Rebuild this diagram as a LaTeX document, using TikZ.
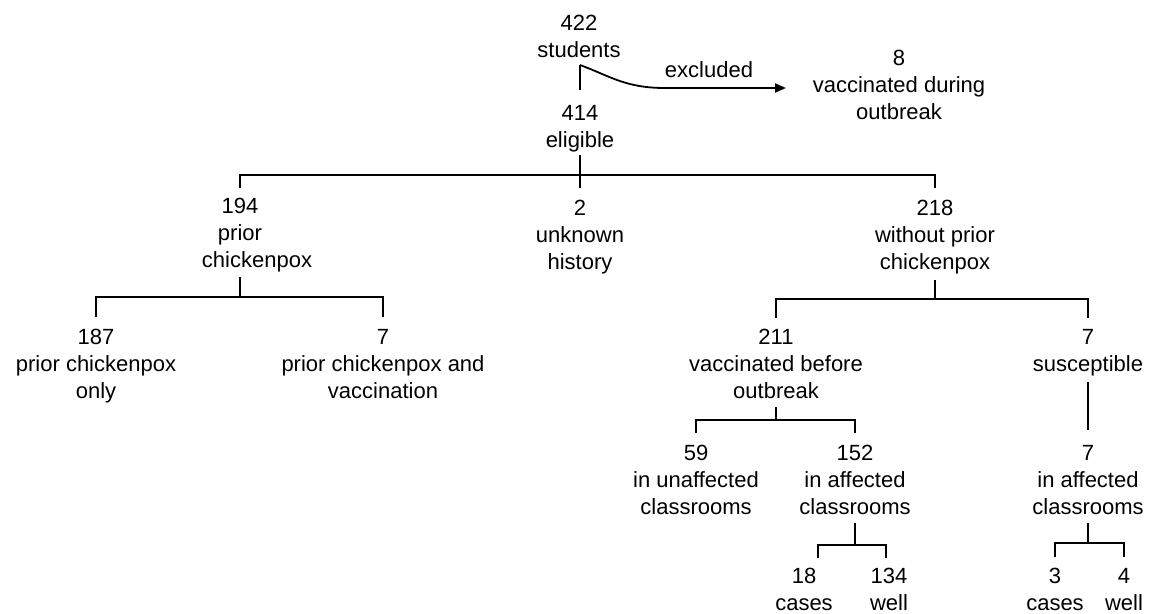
\documentclass[tikz,border=0pt]{standalone}
\usepackage{fontspec}
\setmainfont{Liberation Sans}
\usetikzlibrary{arrows.meta,calc}
\begin{document}
\begin{tikzpicture}[x=1pt,y=-1pt,
  lbl/.style={inner sep=0pt, outer sep=0pt, align=center, anchor=north,
              font=\fontsize{22}{27}\selectfont},
  conn/.style={line width=1.8pt, line cap=butt, line join=miter},
  arr/.style={conn, -{Triangle[length=11pt,width=9pt]}}
]
\useasboundingbox (0,0) rectangle (1151,613);

% nodes
\node[lbl] (n422) at (579,15)  {422\\students};
\node[lbl] (n414) at (580,105) {414\\eligible};
\node[lbl] (n8)   at (899,50)  {8\\vaccinated during\\outbreak};
\node[inner sep=0pt, anchor=base, font=\fontsize{22}{27}\selectfont] (lblx) at (709,77) {excluded};

\node[lbl] (n194) at (240,198) {194\\prior\\\hspace*{34pt}chickenpox};
\node[lbl] (n2)   at (580,200) {2\\unknown\\history};
\node[lbl] (n218) at (935,200) {218\\without prior\\chickenpox};

\node[lbl] (n187) at (96,329)   {187\\prior chickenpox\\only};
\node[lbl] (n7a)  at (383,329)  {7\\prior chickenpox and\\vaccination};
\node[lbl] (n211) at (776,329)  {211\\vaccinated before\\outbreak};
\node[lbl] (n7b)  at (1088,329) {7\\susceptible};

\node[lbl] (n59)  at (696,445)  {59\\in unaffected\\classrooms};
\node[lbl] (n152) at (855,445)  {152\\in affected\\classrooms};
\node[lbl] (n7c)  at (1088,445) {7\\in affected\\classrooms};

\node[lbl] (n18)  at (804,568)  {18\\cases};
\node[lbl] (n134) at (889,568)  {134\\well};
\node[lbl] (n3)   at (1055,568) {3\\cases};
\node[lbl] (n4)   at (1124,568) {4\\well};

% 422 -> 414 and excluded arrow
\coordinate (split) at (580,65);
\coordinate (arrtip) at (786,88);
\draw[conn] (split) -- (n414 |- 0,90);
\draw[arr] (split) .. controls (610,76) and (625,88) .. (665,88) -- (arrtip);

% 414 -> 194, 2, 218
\draw[conn] (n414 |- 0,155) -- (n2 |- 0,188);
\draw[conn] (n194 |- 0,188) |- (n218 |- 0,175) -- (n218 |- 0,188);

% 194 -> 187, 7
\draw[conn] (n194 |- 0,277) -- (n194 |- 0,297);
\draw[conn] (n187 |- 0,317) |- (n7a |- 0,297) -- (n7a |- 0,317);

% 218 -> 211, 7
\draw[conn] (n218 |- 0,280) -- (n218 |- 0,299);
\draw[conn] (n211 |- 0,318) |- (n7b |- 0,299) -- (n7b |- 0,318);

% 211 -> 59, 152
\draw[conn] (n211 |- 0,407) -- (n211 |- 0,420);
\draw[conn] (n59 |- 0,433) |- (n152 |- 0,420) -- (n152 |- 0,433);

% 7 susceptible -> 7 in affected classrooms
\draw[conn] (n7b |- 0,382) -- (n7c |- 0,430);

% 152 -> 18, 134
\draw[conn] (n152 |- 0,523) -- (n152 |- 0,545);
\draw[conn] ($(n18.north)+(14,-10)$) |- ($(n134.north)+(-3,-23)$) -- ($(n134.north)+(-3,-10)$);

% 7 -> 3, 4
\draw[conn] (n7c |- 0,523) -- (n7c |- 0,543);
\draw[conn] (n3 |- 0,557) |- (n4 |- 0,543) -- (n4 |- 0,557);
\end{tikzpicture}
\end{document}
